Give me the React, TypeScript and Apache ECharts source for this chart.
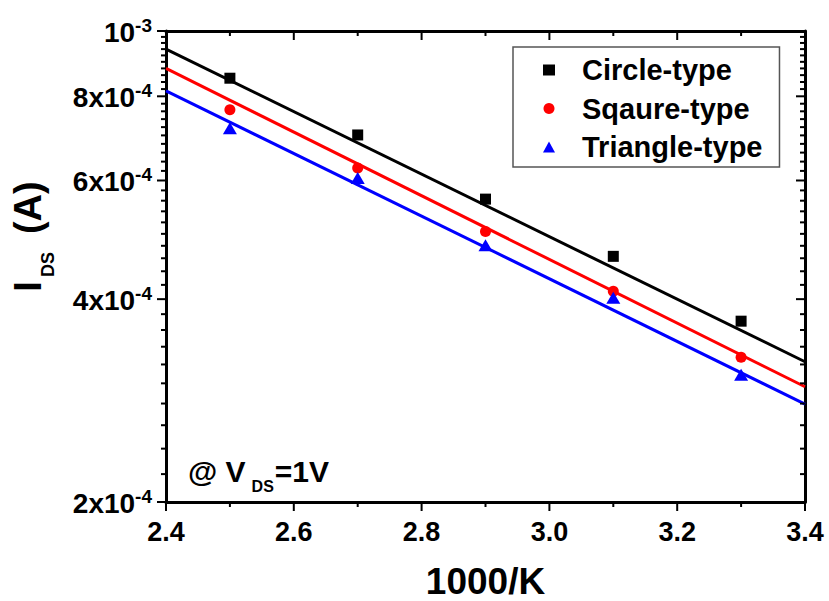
import React, { useEffect, useRef } from "react";
import * as echarts from "echarts";

// ---- data ----
const temps = [2.5, 2.7, 2.9, 3.1, 3.3]; // 1000/K
const circleType = [8.51e-4, 7.01e-4, 5.63e-4, 4.63e-4, 3.71e-4];
const squareType = [7.64e-4, 6.26e-4, 5.04e-4, 4.11e-4, 3.28e-4];
const triangleType = [7.17e-4, 6.05e-4, 4.81e-4, 4.02e-4, 3.09e-4];

// linear (Arrhenius) fits, values at the ends of the x range
const fitX = [2.4, 3.4];
const circleFit = [9.4e-4, 3.23e-4];
const squareFit = [8.8e-4, 2.965e-4];
const triangleFit = [8.15e-4, 2.795e-4];

const seriesNames = ["Circle-type", "Sqaure-type", "Triangle-type"];

// axes / ticks
const X_MIN = 2.4;
const X_MAX = 3.4;
const Y_MIN = 2e-4;
const Y_MAX = 1e-3;
const xTickLabels = ["2.4", "2.6", "2.8", "3.0", "3.2", "3.4"];
const xMajorTicks = [2.4, 2.6, 2.8, 3.0, 3.2, 3.4];
const xMinorTicks = [2.5, 2.7, 2.9, 3.1, 3.3];
const yMajorTicks = [2e-4, 4e-4, 6e-4, 8e-4, 1e-3];
const yMinorTicks: number[] = [];
for (let k = 22; k < 100; k += 2) {
  if (k % 20 !== 0) yMinorTicks.push(k / 1e5);
}

const FONT = '"Liberation Sans", Arial, Helvetica, sans-serif';
const MAJOR_LEN = 9;
const MINOR_LEN = 5;
const TICK_W = 2;

function yLabel(v: number): string {
  const m = Math.round(v / 1e-4);
  if (m >= 10) return "{b|10}{s|-3}";
  return "{b|" + m + "x10}{s|-4}";
}

function axisLine() {
  return { show: true, onZero: false, lineStyle: { color: "#000", width: 3 } };
}

export default function App() {
  const ref = useRef<HTMLDivElement>(null);

  useEffect(() => {
    if (!ref.current) return;
    const chart = echarts.init(ref.current, null, { renderer: "svg" });

    const scatterColors = ["#000000", "#ff0000", "#0000ff"];
    const scatterSymbols = ["rect", "circle", "triangle"];
    const scatterSizes: any[] = [11, 11, [14, 12]];
    const values = [circleType, squareType, triangleType];
    const fits = [circleFit, squareFit, triangleFit];

    // tick marks as thin rect symbols placed through the axes' scales
    const tickData: any[] = [];
    const addX = (vals: number[], len: number) => {
      vals.forEach((v) => {
        tickData.push({ value: [v, Y_MIN], symbolSize: [TICK_W, len], symbolOffset: [0, len / 2] });
        tickData.push({ value: [v, Y_MAX], symbolSize: [TICK_W, len], symbolOffset: [0, len / 2] });
      });
    };
    const addY = (vals: number[], len: number) => {
      vals.forEach((v) => {
        tickData.push({ value: [X_MIN, v], symbolSize: [len, TICK_W], symbolOffset: [-len / 2, 0] });
        tickData.push({ value: [X_MAX, v], symbolSize: [len, TICK_W], symbolOffset: [-len / 2, 0] });
      });
    };
    addX(xMajorTicks, MAJOR_LEN);
    addX(xMinorTicks, MINOR_LEN);
    addY(yMajorTicks, MAJOR_LEN);
    addY(yMinorTicks, MINOR_LEN);

    const series: any[] = [];
    fits.forEach((f, i) => {
      series.push({
        name: seriesNames[i] + " fit",
        type: "line",
        data: fitX.map((x, j) => [x, f[j]]),
        symbol: "none",
        lineStyle: { color: scatterColors[i], width: 3 },
        z: 2,
        silent: true,
      });
    });
    values.forEach((vals, i) => {
      series.push({
        name: seriesNames[i],
        type: "scatter",
        data: temps.map((x, j) => [x, vals[j]]),
        symbol: scatterSymbols[i],
        symbolSize: scatterSizes[i],
        itemStyle: { color: scatterColors[i], opacity: 1 },
        z: 3,
      });
    });
    series.push({
      name: "axis ticks",
      type: "scatter",
      data: tickData,
      symbol: "rect",
      clip: false,
      silent: true,
      z: 4,
      itemStyle: { color: "#000", opacity: 1 },
      emphasis: { disabled: true },
    });

    chart.setOption({
      animation: false,
      grid: {
        left: 166,
        right: 24,
        top: 31,
        bottom: 99,
        containLabel: false,
        outerBoundsMode: "none",
      },
      xAxis: [
        {
          type: "value",
          min: X_MIN,
          max: X_MAX,
          interval: 0.2,
          position: "bottom",
          splitLine: { show: false },
          axisLine: axisLine(),
          axisTick: { show: false },
          axisLabel: {
            show: true,
            margin: 16,
            fontFamily: FONT,
            fontWeight: "bold",
            fontSize: 27,
            color: "#000",
            formatter: (v: number) => {
              const idx = Math.round((v - X_MIN) / 0.2);
              return xTickLabels[idx] ?? v.toFixed(1);
            },
          },
          name: "1000/K",
          nameLocation: "middle",
          nameGap: 61,
          nameTextStyle: { fontFamily: FONT, fontWeight: "bold", fontSize: 37, color: "#000" },
        },
        {
          type: "value",
          min: X_MIN,
          max: X_MAX,
          interval: 0.2,
          position: "top",
          splitLine: { show: false },
          axisLine: axisLine(),
          axisTick: { show: false },
          axisLabel: { show: false },
        },
      ],
      yAxis: [
        {
          type: "log",
          logBase: 10,
          min: Y_MIN,
          max: Y_MAX,
          position: "left",
          splitLine: { show: false },
          axisLine: axisLine(),
          axisTick: { show: false },
          axisLabel: {
            show: true,
            customValues: yMajorTicks,
            margin: 14,
            formatter: (v: number) => yLabel(v),
            rich: {
              b: {
                fontFamily: FONT,
                fontWeight: "bold",
                fontSize: 28,
                color: "#000",
                verticalAlign: "top",
                padding: [3, 0, 0, 0],
              },
              s: {
                fontFamily: FONT,
                fontWeight: "bold",
                fontSize: 19,
                color: "#000",
                verticalAlign: "top",
              },
            },
          },
          name: "{i|I}{d|DS}{a|(A)}",
          nameLocation: "middle",
          nameGap: 109.5,
          nameTextStyle: {
            padding: [0, 0, 0, 60],
            rich: {
              i: { fontFamily: FONT, fontWeight: "bold", fontSize: 38, color: "#000", verticalAlign: "top" },
              d: {
                fontFamily: FONT,
                fontWeight: "bold",
                fontSize: 18,
                color: "#000",
                verticalAlign: "bottom",
                padding: [30, 18, 0, 4],
              },
              a: { fontFamily: FONT, fontWeight: "bold", fontSize: 38, color: "#000", verticalAlign: "top" },
            },
          },
        },
        {
          type: "log",
          logBase: 10,
          min: Y_MIN,
          max: Y_MAX,
          position: "right",
          splitLine: { show: false },
          axisLine: axisLine(),
          axisTick: { show: false },
          axisLabel: { show: false },
        },
      ],
      legend: {
        data: [
          { name: seriesNames[0], icon: "rect" },
          { name: seriesNames[1], icon: "circle" },
          { name: seriesNames[2], icon: "triangle" },
        ],
        orient: "vertical",
        left: 513,
        top: 47,
        itemWidth: 12,
        itemHeight: 11,
        itemGap: 6.5,
        padding: [7, 17, 4, 30],
        borderColor: "#555",
        borderWidth: 1.5,
        backgroundColor: "#fff",
        selectedMode: false,
        textStyle: {
          fontFamily: FONT,
          fontWeight: "bold",
          fontSize: 29,
          lineHeight: 32,
          color: "#000",
          padding: [0, 0, 0, 22],
        },
      },
      graphic: [
        {
          type: "text",
          x: 188,
          y: 456.5,
          z: 10,
          style: {
            text: "{a|@ V}{b|DS}{a|=1V}",
            align: "left",
            verticalAlign: "top",
            rich: {
              a: { fontFamily: FONT, fontWeight: "bold", fontSize: 30, fill: "#000", verticalAlign: "top" },
              b: {
                fontFamily: FONT,
                fontWeight: "bold",
                fontSize: 16,
                fill: "#000",
                verticalAlign: "bottom",
                padding: [22, 1, 0, 6],
              },
            },
          },
        },
      ],
      series,
    });

    return () => chart.dispose();
  }, []);

  return (
    <div
      ref={ref}
      style={{ position: "absolute", left: 0, top: 0, width: 829, height: 601, background: "#fff" }}
    />
  );
}
